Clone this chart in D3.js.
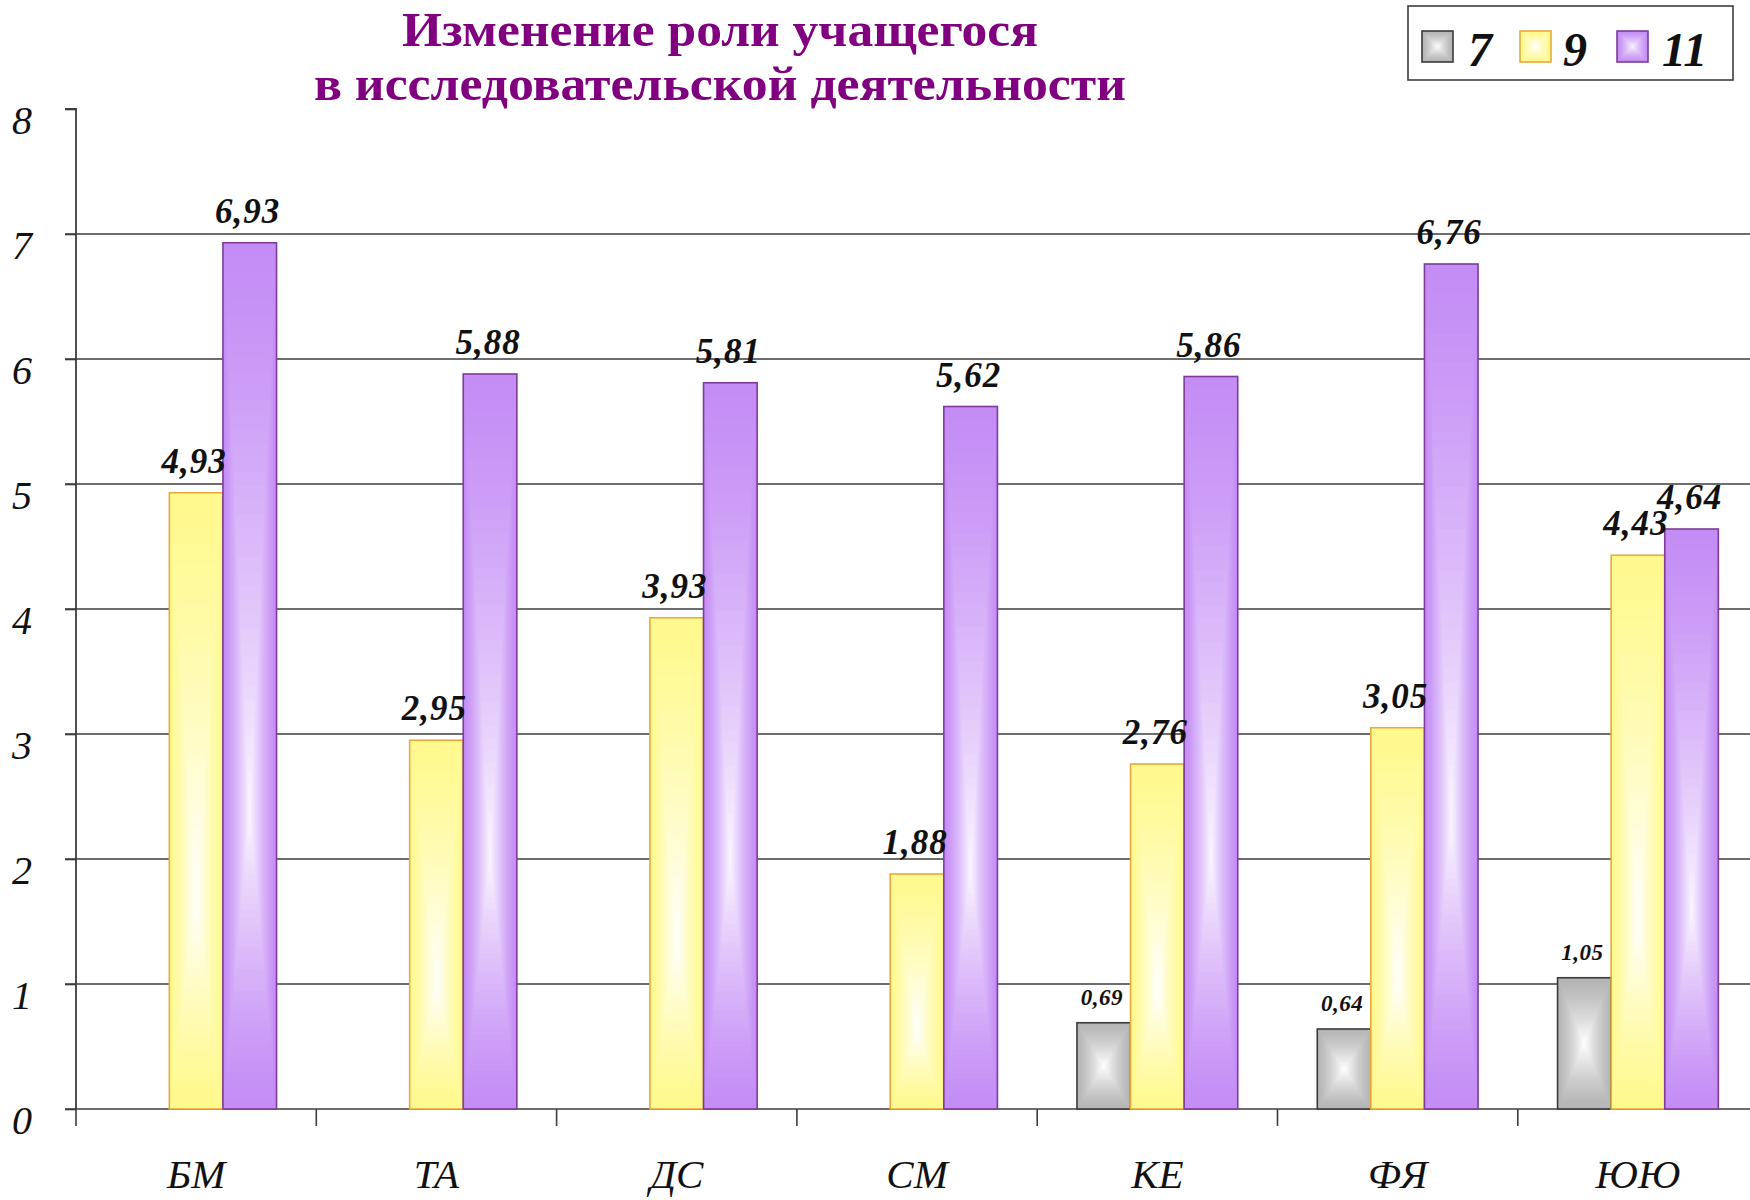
<!DOCTYPE html>
<html>
<head>
<meta charset="utf-8">
<script src="https://cdn.jsdelivr.net/npm/d3@7"></script>
<style>
  html, body { margin: 0; padding: 0; background: #fff; }
  svg { display: block; }
  text { font-family: "Liberation Serif", "Times New Roman", serif; }
</style>
</head>
<body>
<svg id="chart" width="1750" height="1200"></svg>
<script>
// Categories (students) and values per grade
const categories = ["БМ", "ТА", "ДС", "СМ", "КЕ", "ФЯ", "ЮЮ"];
const seriesNames = ["7", "9", "11"];
const grade7  = [null, null, null, null, 0.69, 0.64, 1.05];
const grade9  = [4.93, 2.95, 3.93, 1.88, 2.76, 3.05, 4.43];
const grade11 = [6.93, 5.88, 5.81, 5.62, 5.86, 6.76, 4.64];
const yTicks = [0, 1, 2, 3, 4, 5, 6, 7, 8];

const titleLines = ["Изменение роли учащегося", "в исследовательской деятельности"];

const seriesValues = [grade7, grade9, grade11];
const styles = {
  "7":  { edge: "#b5b5b5", center: "#ffffff", stroke: "#3a3a3a", cyFrac: 0.5 },
  "9":  { edge: "#fff98e", center: "#ffffff", stroke: "#e8a93a", cyFrac: 0.66 },
  "11": { edge: "#c48df5", center: "#fbf6ff", stroke: "#7e3b98", cyFrac: 0.66 }
};

const svg = d3.select("#chart");
const W = 1750;

const x0 = d3.scaleBand()
  .domain(categories)
  .range([76, 76 + 7 * 240.3])
  .paddingInner(0.331)
  .paddingOuter(0.1655);

const x1 = d3.scaleBand()
  .domain(seriesNames)
  .range([0, x0.bandwidth()])
  .padding(0);

const y = d3.scaleLinear().domain([0, 8]).range([1109, 109]);

// Horizontal grid lines (1..7) and baseline
const grid = svg.append("g");
grid.selectAll("line")
  .data(yTicks.filter(t => t < 8))
  .join("line")
  .attr("x1", 65).attr("x2", W)
  .attr("y1", d => y(d)).attr("y2", d => y(d))
  .attr("stroke", "#3c3c3c")
  .attr("stroke-width", 1.6);

// Y axis
const yAxis = svg.append("g").attr("transform", "translate(76,0)")
  .call(d3.axisLeft(y).tickValues(yTicks).tickSize(11).tickFormat(d3.format("d")));
yAxis.select(".domain").attr("stroke", "#3c3c3c").attr("stroke-width", 1.8)
  .attr("d", `M-11,${y(8)}H0V${y(0)}`);
yAxis.selectAll(".tick line").attr("stroke", "#3c3c3c").attr("stroke-width", 1.6);
yAxis.selectAll(".tick text")
  .attr("x", -54).attr("dy", "0.6em")
  .attr("text-anchor", "middle")
  .attr("font-size", 40).attr("font-style", "italic")
  .attr("font-family", "Liberation Serif").attr("fill", "#111");

// Category boundary ticks along the baseline
const step = x0.step();
const boundaries = d3.range(0, categories.length + 1).map(i => 76 + i * step);
svg.append("g").selectAll("line")
  .data(boundaries)
  .join("line")
  .attr("x1", d => d).attr("x2", d => d)
  .attr("y1", y(0)).attr("y2", y(0) + 17)
  .attr("stroke", "#3c3c3c").attr("stroke-width", 1.6);

// Category labels
svg.append("g").selectAll("text")
  .data(categories)
  .join("text")
  .attr("x", d => x0(d) + x0.bandwidth() / 2)
  .attr("y", 1188)
  .attr("text-anchor", "middle")
  .attr("font-size", 41).attr("font-style", "italic")
  .attr("fill", "#111")
  .text(d => d);

// Rectangular "path" gradient built from nested rectangles
function shadedRect(g, bx, by, bw, bh, st, steps) {
  const cx = bx + bw / 2;
  const cy = by + bh * st.cyFrac;
  const interp = d3.interpolateRgb(st.edge, st.center);
  const layers = d3.range(steps).map(k => k / steps);
  g.selectAll("rect.layer")
    .data(layers)
    .join("rect")
    .attr("class", "layer")
    .attr("x", t => bx + t * (cx - bx))
    .attr("y", t => by + t * (cy - by))
    .attr("width", t => bw * (1 - t))
    .attr("height", t => bh * (1 - t))
    .attr("fill", t => interp(Math.pow(t, 1.3)));
  g.append("rect")
    .attr("x", bx).attr("y", by)
    .attr("width", bw).attr("height", bh)
    .attr("fill", "none")
    .attr("stroke", st.stroke)
    .attr("stroke-width", 1.6);
}

// Bars
const barData = [];
categories.forEach((c, i) => {
  seriesNames.forEach((s, j) => {
    const v = seriesValues[j][i];
    if (v !== null) barData.push({ cat: c, series: s, value: v });
  });
});

const bars = svg.append("g");
barData.forEach(d => {
  const g = bars.append("g");
  const bx = x0(d.cat) + x1(d.series);
  const by = y(d.value);
  shadedRect(g, bx, by, x1.bandwidth(), y(0) - by, styles[d.series], 40);
});

// Value labels
const fmt = v => d3.format(".2f")(v).replace(".", ",");
svg.append("g").selectAll("text")
  .data(barData)
  .join("text")
  .attr("x", d => x0(d.cat) + x1(d.series) + x1.bandwidth() / 2 - 2)
  .attr("y", d => y(d.value) - (d.series === "7" ? 18 : 20))
  .attr("text-anchor", "middle")
  .attr("font-size", d => d.series === "7" ? 23 : 35)
  .attr("letter-spacing", d => d.series === "7" ? 0.5 : 1)
  .attr("font-weight", "bold").attr("font-style", "italic")
  .attr("fill", "#111")
  .text(d => fmt(d.value));

// Title
const title = svg.append("g").attr("fill", "#800080");
const titleSpecs = [
  { text: titleLines[0], y: 46, len: 636 },
  { text: titleLines[1], y: 100, len: 812 }
];
title.selectAll("text")
  .data(titleSpecs)
  .join("text")
  .attr("x", 720)
  .attr("y", d => d.y)
  .attr("text-anchor", "middle")
  .attr("font-size", 48).attr("font-weight", "bold")
  .attr("textLength", d => d.len)
  .attr("lengthAdjust", "spacingAndGlyphs")
  .text(d => d.text);

// Legend
const legend = svg.append("g");
legend.append("rect")
  .attr("x", 1408).attr("y", 6).attr("width", 325).attr("height", 74)
  .attr("fill", "#fff").attr("stroke", "#3c3c3c").attr("stroke-width", 1.6);
const legendItems = [
  { s: "7", sx: 1422, tx: 1468 },
  { s: "9", sx: 1520, tx: 1563 },
  { s: "11", sx: 1617, tx: 1662 }
];
legendItems.forEach(it => {
  const g = legend.append("g");
  shadedRect(g, it.sx, 31, 31, 31, Object.assign({}, styles[it.s], { cyFrac: 0.5 }), 16);
  legend.append("text")
    .attr("x", it.tx).attr("y", 66)
    .attr("font-size", 48).attr("font-weight", "bold").attr("font-style", "italic")
    .attr("fill", "#111")
    .text(it.s);
});
</script>
</body>
</html>
